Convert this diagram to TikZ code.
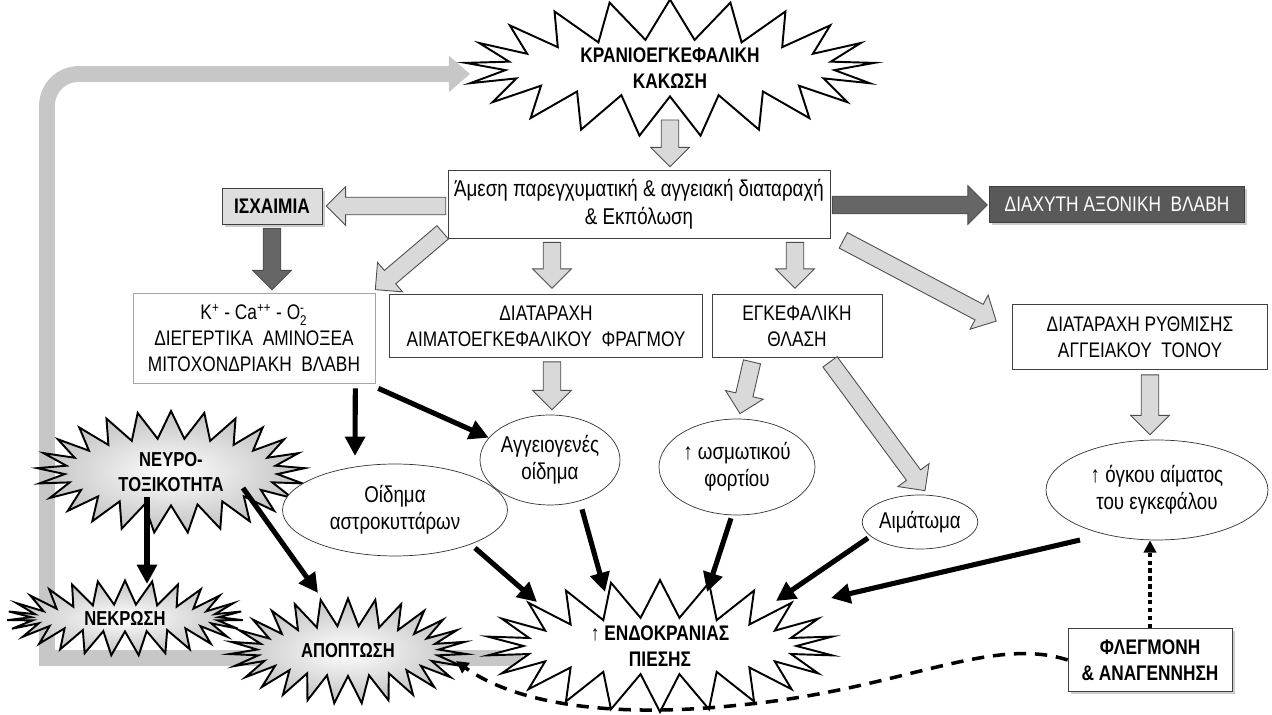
\documentclass[tikz,border=0pt]{standalone}
\usepackage{fontspec}
\setmainfont{Liberation Sans}[FakeStretch=0.82]
\usepackage{amsmath}
\usetikzlibrary{shapes, shapes.symbols, shapes.geometric, arrows.meta, calc, shadows, backgrounds, positioning}

\begin{document}
\begin{tikzpicture}[x=0.02cm, y=-0.02cm,
            box/.style={draw=black!75, fill=white, align=center, inner sep=0pt, font=\fontsize{12}{14.8}\selectfont},
            bold box/.style={box, font=\fontsize{12}{15}\selectfont\bfseries},
            oval/.style={ellipse, draw=black!80, fill=white, align=center, inner sep=0pt, font=\fontsize{13}{15.5}\selectfont},
            burst/.style={starburst, draw, line width=1.1pt, align=center, inner sep=0pt, random starburst=0, font=\fontsize{12}{14.5}\selectfont\bfseries},
            grey burst/.style={burst, inner color=white, outer color=black!24, font=\fontsize{11.5}{14}\selectfont\bfseries},
            shadowed/.style={drop shadow={shadow xshift=1.5pt, shadow yshift=-1.5pt, opacity=.4}},
            fat/.style={to path={let \p1=(\tikztostart), \p2=(\tikztotarget), \p3=($(\p2)!11pt!(\p1)$) in
                ($(\p1)!5pt!90:(\p2)$) -- ($(\p3)!5pt!90:(\p2)$) -- ($(\p3)!11pt!90:(\p2)$) -- (\p2)
                -- ($(\p3)!11pt!-90:(\p2)$) -- ($(\p3)!5pt!-90:(\p2)$) -- ($(\p1)!5pt!-90:(\p2)$) -- cycle}},
            hollow/.style={fat, draw=black!70, fill=black!15, line width=.5pt},
            dark/.style={fat, draw=black!70, fill=black!60, line width=.5pt},
            link/.style={line width=2.9pt, -{Triangle[length=11pt,width=11pt]}},
            feedback/.style={line width=9pt, draw=black!22, -{Triangle[length=12pt,width=20pt]}}]

            \useasboundingbox (0,0) rectangle (1272,715);

            \node[burst, fill=white, minimum width=8.2cm, minimum height=2.5cm, starburst points=21, starburst point height=.8cm] (injury) at (670,68) {ΚΡΑΝΙΟΕΓΚΕΦΑΛΙΚΗ\\ΚΑΚΩΣΗ};
            \node[box, minimum width=7.64cm, minimum height=1.36cm, font=\fontsize{13}{16}\selectfont] (direct) at (639,204) {Άμεση παρεγχυματική \& αγγειακή διαταραχή\\\& Εκπόλωση};
            \node[bold box, fill=black!13, shadowed, minimum width=2cm, minimum height=.72cm] (ischemia) at (272,206) {ΙΣΧΑΙΜΙΑ};
            \node[box, fill=black!65, text=white, shadowed, minimum width=5.1cm, minimum height=.72cm] (dai) at (1117,204) {ΔΙΑΧΥΤΗ ΑΞΟΝΙΚΗ~ ΒΛΑΒΗ};

            \node[box, draw=black!35, minimum width=4.84cm, minimum height=1.8cm] (ions) at (254,338) {K\textsuperscript{+} - Ca\textsuperscript{++} - O$_{\text{2}}^{\text{-}}$\\ΔΙΕΓΕΡΤΙΚΑ~ ΑΜΙΝΟΞΕΑ\\ΜΙΤΟΧΟΝΔΡΙΑΚΗ~ ΒΛΑΒΗ};
            \node[box, minimum width=6.26cm, minimum height=1.26cm] (bbb) at (546,326) {ΔΙΑΤΑΡΑΧΗ\\ΑΙΜΑΤΟΕΓΚΕΦΑΛΙΚΟΥ~ ΦΡΑΓΜΟΥ};
            \node[box, minimum width=3.4cm, minimum height=1.26cm] (contusion) at (797,326) {ΕΓΚΕΦΑΛΙΚΗ\\ΘΛΑΣΗ};
            \node[box, minimum width=5.1cm, minimum height=1.3cm] (tone) at (1140,337) {ΔΙΑΤΑΡΑΧΗ ΡΥΘΜΙΣΗΣ\\ΑΓΓΕΙΑΚΟΥ~ ΤΟΝΟΥ};

            \node[grey burst, minimum width=5.36cm, minimum height=2.44cm, starburst points=25, starburst point height=.55cm] (neuro) at (171,472) {ΝΕΥΡΟ-\\ΤΟΞΙΚΟΤΗΤΑ};
            \node[grey burst, minimum width=4.72cm, minimum height=1.5cm, starburst points=27, starburst point height=.48cm] (necrosis) at (125,618) {ΝΕΚΡΩΣΗ};
            \node[grey burst, minimum width=4.74cm, minimum height=2.1cm, starburst points=27, starburst point height=.55cm] (apoptosis) at (348,651) {ΑΠΟΠΤΩΣΗ};

            \node[oval, minimum width=2.8cm, minimum height=1.8cm] (vaso) at (550,460) {Αγγειογενές\\οίδημα};
            \node[oval, minimum width=3.12cm, minimum height=1.92cm] (osmo) at (737,467) {↑ ωσμωτικού\\φορτίου};
            \node[oval, minimum width=4.5cm, minimum height=1.84cm] (astro) at (395,510) {Οίδημα\\αστροκυττάρων};
            \node[oval, minimum width=2.2cm, minimum height=1.08cm] (hematoma) at (920,522) {Αιμάτωμα};
            \node[oval, minimum width=4.44cm, minimum height=2cm] (volume) at (1157,490) {↑ όγκου αίματος\\του εγκεφάλου};

            \node[burst, fill=white, minimum width=6.96cm, minimum height=2.4cm, starburst points=22, starburst point height=.75cm] (endo) at (660,646) {↑ ΕΝΔΟΚΡΑΝΙΑΣ\\ΠΙΕΣΗΣ};
            \node[bold box, shadowed, minimum width=3.28cm, minimum height=1.26cm] (inflam) at (1150,660) {ΦΛΕΓΜΟΝΗ\\\& ΑΝΑΓΕΝΝΗΣΗ};

            \begin{pgfonlayer}{background}
            \draw[feedback] ($(endo.center)+(-137,12)$) -- (47,658) [rounded corners=18pt] -- (47,74) -- ($(injury.center)+(-200,6)$);
            \end{pgfonlayer}

            \draw[hollow] ($(injury.center)+(0,52)$) to ($(direct.north)+(31,-3)$);
            \draw[hollow] ($(direct.west)+(-2,2)$) to ($(ischemia.east)+(4,0)$);
            \draw[dark] ($(ischemia.south)+(0,4)$) to ($(ions.north)+(18,-3)$);
            \draw[dark] ($(direct.east)+(2,1)$) to ($(dai.west)+(-2,1)$);
            \draw[hollow] ($(direct.south west)+(-5,-6)$) to ($(ions.north east)+(0,-3)$);
            \draw[hollow] ($(direct.south)+(-87,4)$) to ($(bbb.north)+(6,-6)$);
            \draw[hollow] ($(direct.south)+(156,4)$) to ($(contusion.north)+(-2,-6)$);
            \draw[hollow] ($(direct.south east)+(13,2)$) to ($(tone.north west)+(-16,17)$);
            \draw[hollow] ($(bbb.south)+(6,4)$) to ($(vaso.north)+(2,-5)$);
            \draw[hollow] ($(contusion.south)+(-45,4)$) to ($(osmo.north)+(3,-5)$);
            \draw[hollow] ($(contusion.south)+(33,4)$) to ($(hematoma.north)+(5,-4)$);
            \draw[hollow] ($(tone.south)+(10,5)$) to ($(volume.north)+(-7,-5)$);

            \draw[link] ($(ions.south east)+(-20,5)$) -- ($(astro.center)+(-40,-54)$);
            \draw[link] ($(ions.south east)+(3,5)$) -- (vaso.160);
            \draw[link] ($(astro.center)+(80,38)$) -- ($(endo.center)+(-123,-44)$);
            \draw[link] ($(vaso.south)+(32,4)$) -- ($(endo.center)+(-55,-54)$);
            \draw[link] ($(osmo.south)+(-6,3)$) -- ($(endo.center)+(47,-54)$);
            \draw[link] ($(hematoma.center)+(-52,16)$) -- ($(endo.center)+(116,-45)$);
            \draw[link] ($(volume.center)+(-77,50)$) -- ($(endo.center)+(171,-48)$);
            \draw[link] ($(neuro.center)+(-24,25)$) -- ($(necrosis.center)+(22,-34)$);
            \draw[link] ($(neuro.center)+(72,16)$) -- ($(apoptosis.center)+(-30,-58)$);

            \draw[line width=2.2pt, dash pattern=on 2.5pt off 2pt, -{Triangle[length=7pt,width=7pt]}] (inflam.north) -- (inflam.north |- volume.south);
            \draw[line width=2pt, dash pattern=on 7pt off 5pt, -{Triangle[length=7pt,width=7pt]}] (inflam.west) .. controls (990,635) and (900,690) .. (740,705) .. controls (600,720) and (510,700) .. ($(apoptosis.center)+(108,10)$);

        \end{tikzpicture}
\end{document}
